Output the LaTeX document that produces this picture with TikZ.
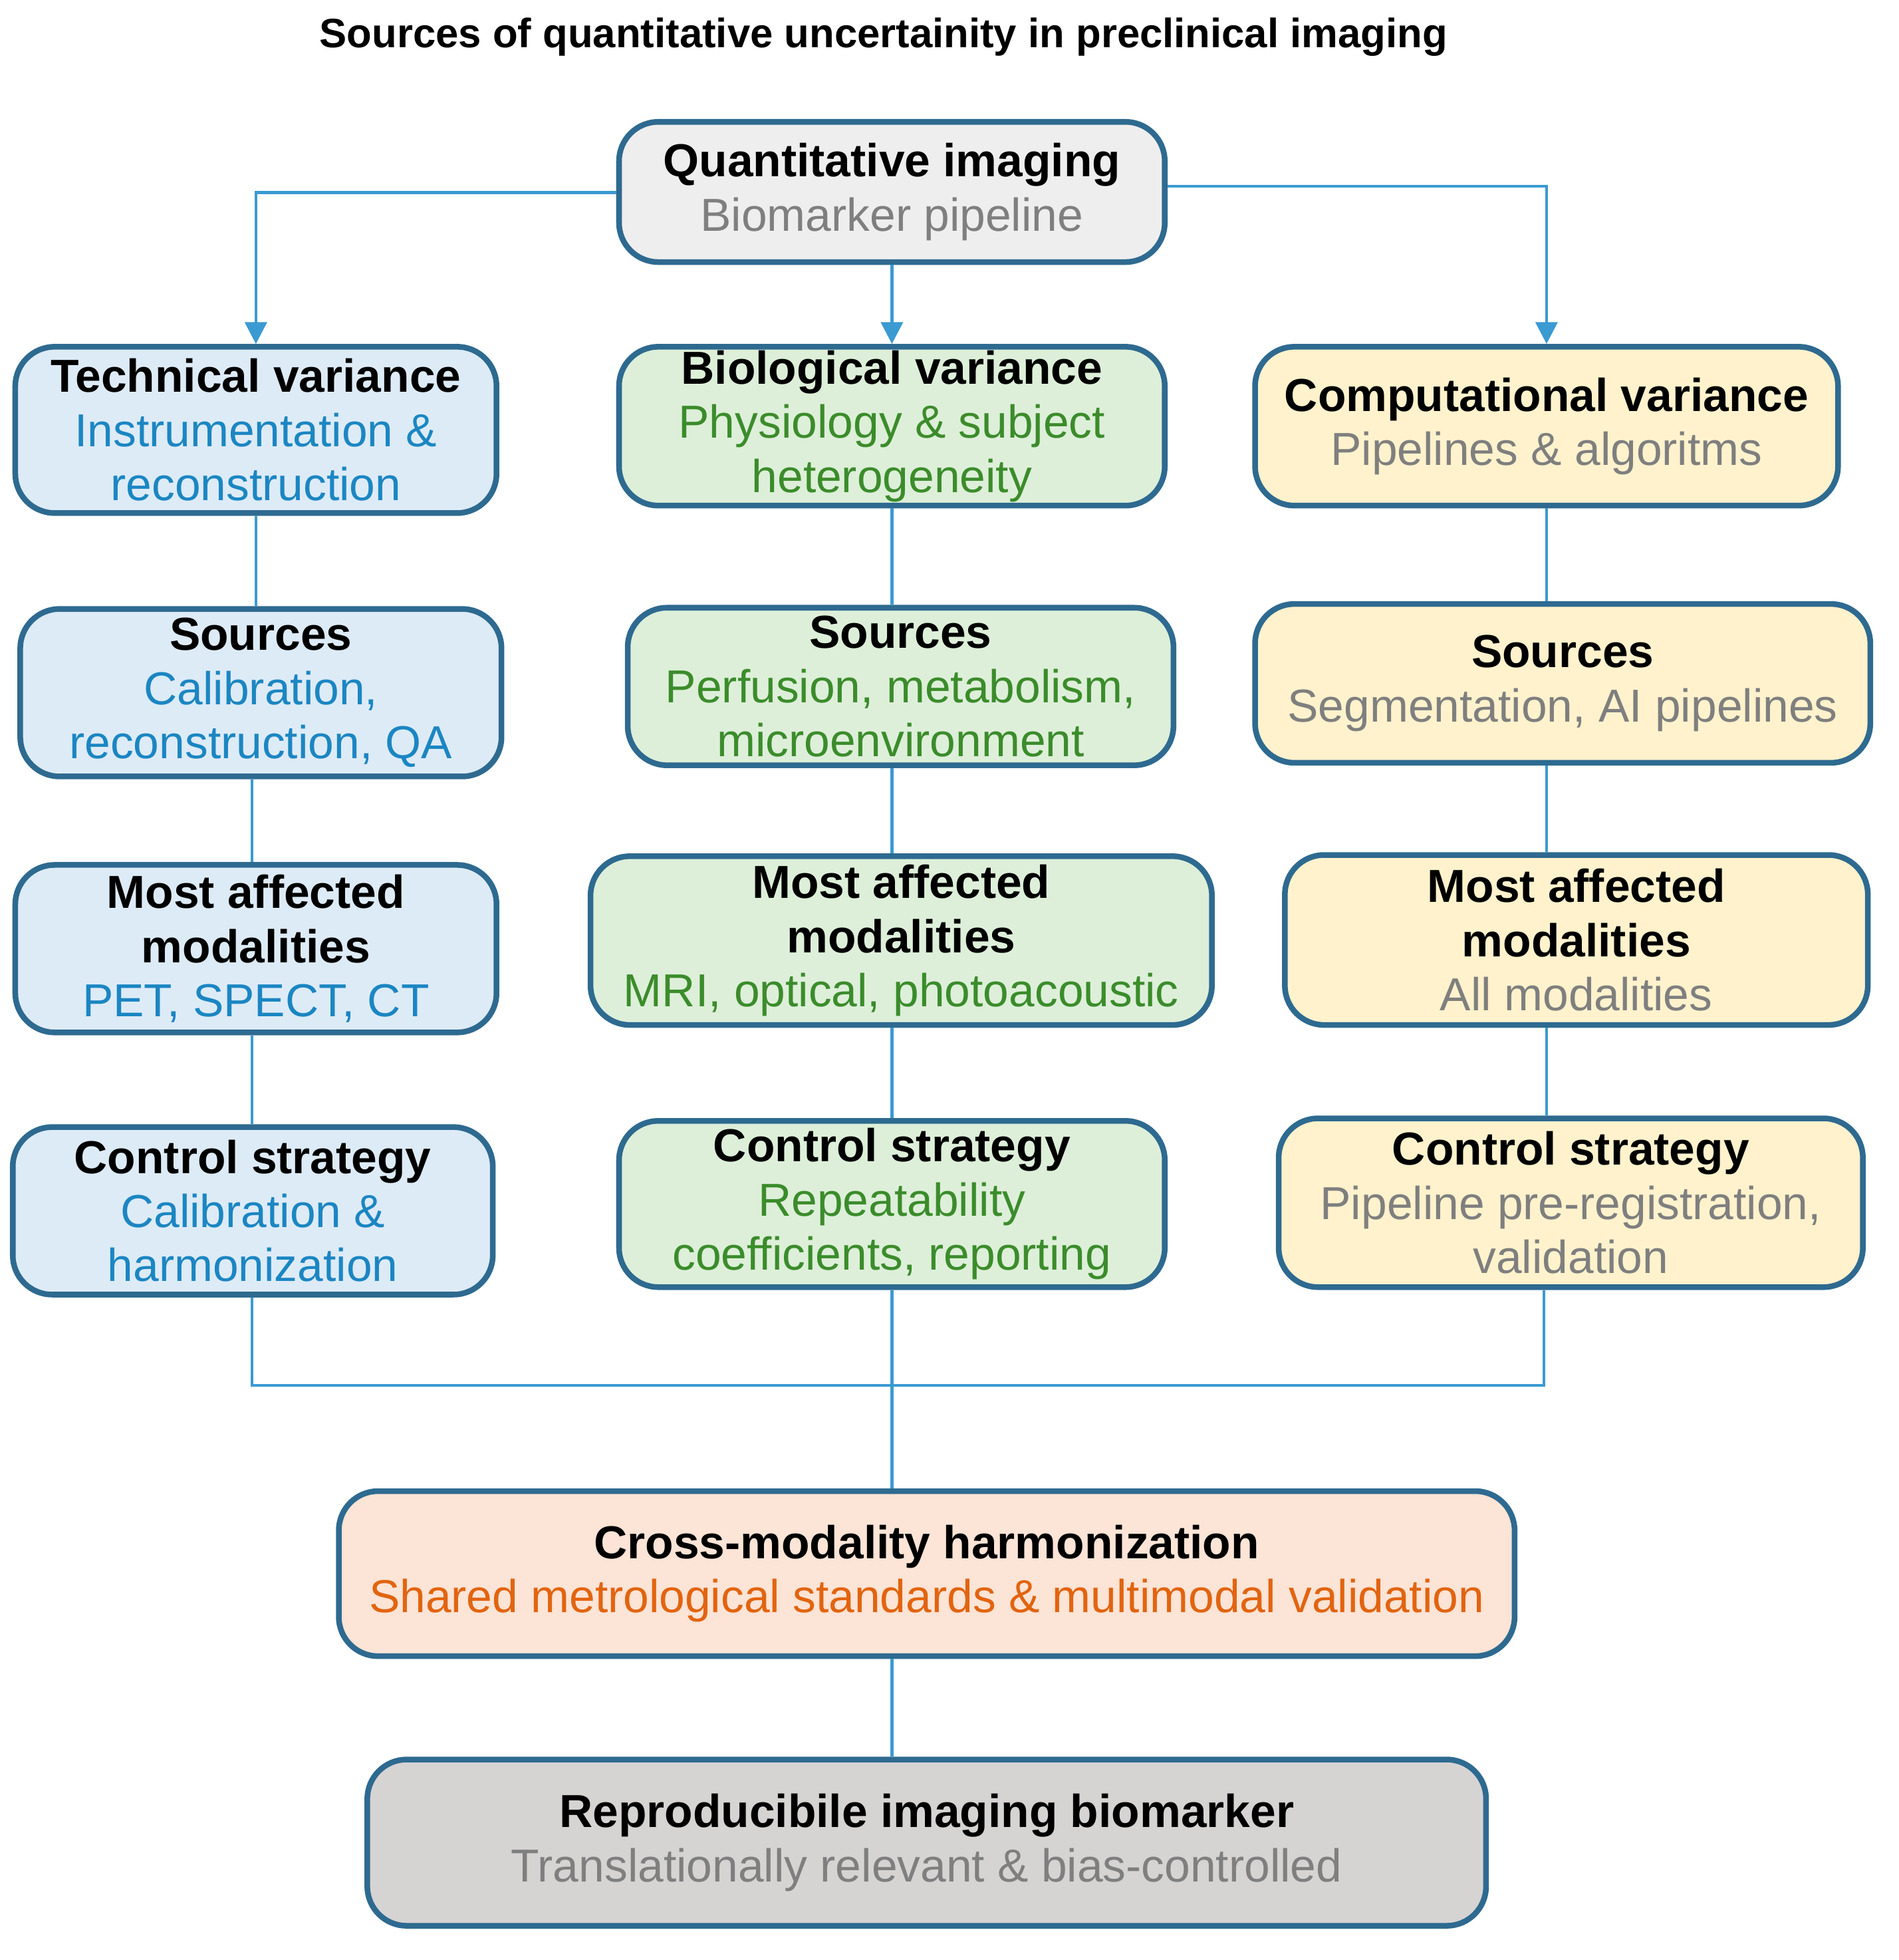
\documentclass[tikz,border=0pt]{standalone}
\usepackage{fontspec}
\setmainfont{Liberation Sans}
\usetikzlibrary{arrows.meta}
\definecolor{bord}{HTML}{2E6A90}
\definecolor{ln}{HTML}{3A9AD2}
\definecolor{bfill}{HTML}{DDEBF7}\definecolor{btxt}{HTML}{1B86C2}
\definecolor{gfill}{HTML}{DDEFD9}\definecolor{gtxt}{HTML}{3B8C2B}
\definecolor{yfill}{HTML}{FFF2CC}\definecolor{gytxt}{HTML}{7F7F7F}
\definecolor{ofill}{HTML}{FCE4D6}\definecolor{otxt}{HTML}{E2640F}
\definecolor{rfill}{HTML}{D6D3D3}\definecolor{tfill}{HTML}{EEEEEE}
\tikzset{
 box/.style={draw=bord,line width=1.3pt,rounded corners=9pt,align=center,inner sep=0pt,font=\fontsize{10.6}{12.4}\selectfont},
 con/.style={draw=ln,line width=0.7pt},
 arr/.style={con,-{Triangle[width=5pt,length=5pt]}},
}
\newcommand\bx[6]{\node[box,#5,minimum width=#3*0.01cm-#1*0.01cm,minimum height=#4*0.01cm-#2*0.01cm] (#6) at ({(#1+#3)*0.005},{-(#2+#4)*0.005})}
\begin{document}
\begin{tikzpicture}
\useasboundingbox (0,0) rectangle (15.30,-15.79);
\node[font=\bfseries\fontsize{9.4}{11}\selectfont] (title) at (7.12,-0.30) {Sources of quantitative uncertainity in preclinical imaging};
\bx{498}{98}{938}{211}{fill=tfill}{top} {\textbf{Quantitative imaging}\\\textcolor{gytxt}{Biomarker pipeline}};
\bx{12}{279}{400}{413}{fill=bfill}{t1} {\textbf{Technical variance}\\\textcolor{btxt}{Instrumentation \&}\\\textcolor{btxt}{reconstruction}};
\bx{498}{279}{938}{407}{fill=gfill}{b1} {\textbf{Biological variance}\\\textcolor{gtxt}{Physiology \& subject}\\\textcolor{gtxt}{heterogeneity}};
\bx{1010}{279}{1480}{407}{fill=yfill}{c1} {\textbf{Computational variance}\\\textcolor{gytxt}{Pipelines \& algoritms}};
\bx{16}{490}{404}{625}{fill=bfill}{t2} {\textbf{Sources}\\\textcolor{btxt}{Calibration,}\\\textcolor{btxt}{reconstruction, QA}};
\bx{505}{489}{945}{616}{fill=gfill}{b2} {\textbf{Sources}\\\textcolor{gtxt}{Perfusion, metabolism,}\\\textcolor{gtxt}{microenvironment}};
\bx{1010}{486}{1506}{614}{fill=yfill}{c2} {\textbf{Sources}\\\textcolor{gytxt}{Segmentation, AI pipelines}};
\bx{12}{696}{400}{831}{fill=bfill}{t3} {\textbf{Most affected}\\\textbf{modalities}\\\textcolor{btxt}{PET, SPECT, CT}};
\bx{475}{689}{976}{825}{fill=gfill}{b3} {\textbf{Most affected}\\\textbf{modalities}\\\textcolor{gtxt}{MRI, optical, photoacoustic}};
\bx{1034}{688}{1504}{825}{fill=yfill}{c3} {\textbf{Most affected}\\\textbf{modalities}\\\textcolor{gytxt}{All modalities}};
\bx{10}{907}{397}{1042}{fill=bfill}{t4} {\textbf{Control strategy}\\\textcolor{btxt}{Calibration \&}\\\textcolor{btxt}{harmonization}};
\bx{498}{902}{938}{1036}{fill=gfill}{b4} {\textbf{Control strategy}\\\textcolor{gtxt}{Repeatability}\\\textcolor{gtxt}{coefficients, reporting}};
\bx{1029}{900}{1500}{1036}{fill=yfill}{c4} {\textbf{Control strategy}\\\textcolor{gytxt}{Pipeline pre-registration,}\\\textcolor{gytxt}{validation}};
\bx{272}{1200}{1220}{1333}{fill=ofill}{cross} {\textbf{Cross-modality harmonization}\\\textcolor{otxt}{Shared metrological standards \& multimodal validation}};
\bx{295}{1416}{1197}{1550}{fill=rfill}{rep} {\textbf{Reproducibile imaging biomarker}\\\textcolor{gytxt}{Translationally relevant \& bias-controlled}};
\coordinate (j1) at (2.03,-11.16);
\coordinate (j2) at (12.44,-11.16);
\draw[arr] (top.west|-0,-1.55) -| (t1.north);
\draw[arr] (top.south-|b1.north) -- (b1.north);
\draw[arr] (top.east|-0,-1.50) -| (c1.north);
\draw[con] (t1.south) -- (t2.north-|t1.south);
\draw[con] (t2.south-|j1) -- (t3.north-|j1);
\draw[con] (t3.south-|j1) -- (t4.north-|j1);
\draw[con] (b1.south) -- (b2.north-|b1.south);
\draw[con] (b2.south-|b1.south) -- (b3.north-|b1.south);
\draw[con] (b3.south-|b1.south) -- (b4.north);
\draw[con] (c1.south) -- (c2.north-|c1.south);
\draw[con] (c2.south-|c1.south) -- (c3.north-|c1.south);
\draw[con] (c3.south-|c1.south) -- (c4.north-|c1.south);
\draw[con] (t4.south-|j1) -- (j1) -- (j2) -- (c4.south-|j2);
\draw[con] (b4.south) -- (cross.north-|b4.south);
\draw[con] (cross.south-|b4.south) -- (rep.north-|b4.south);
\end{tikzpicture}
\end{document}
